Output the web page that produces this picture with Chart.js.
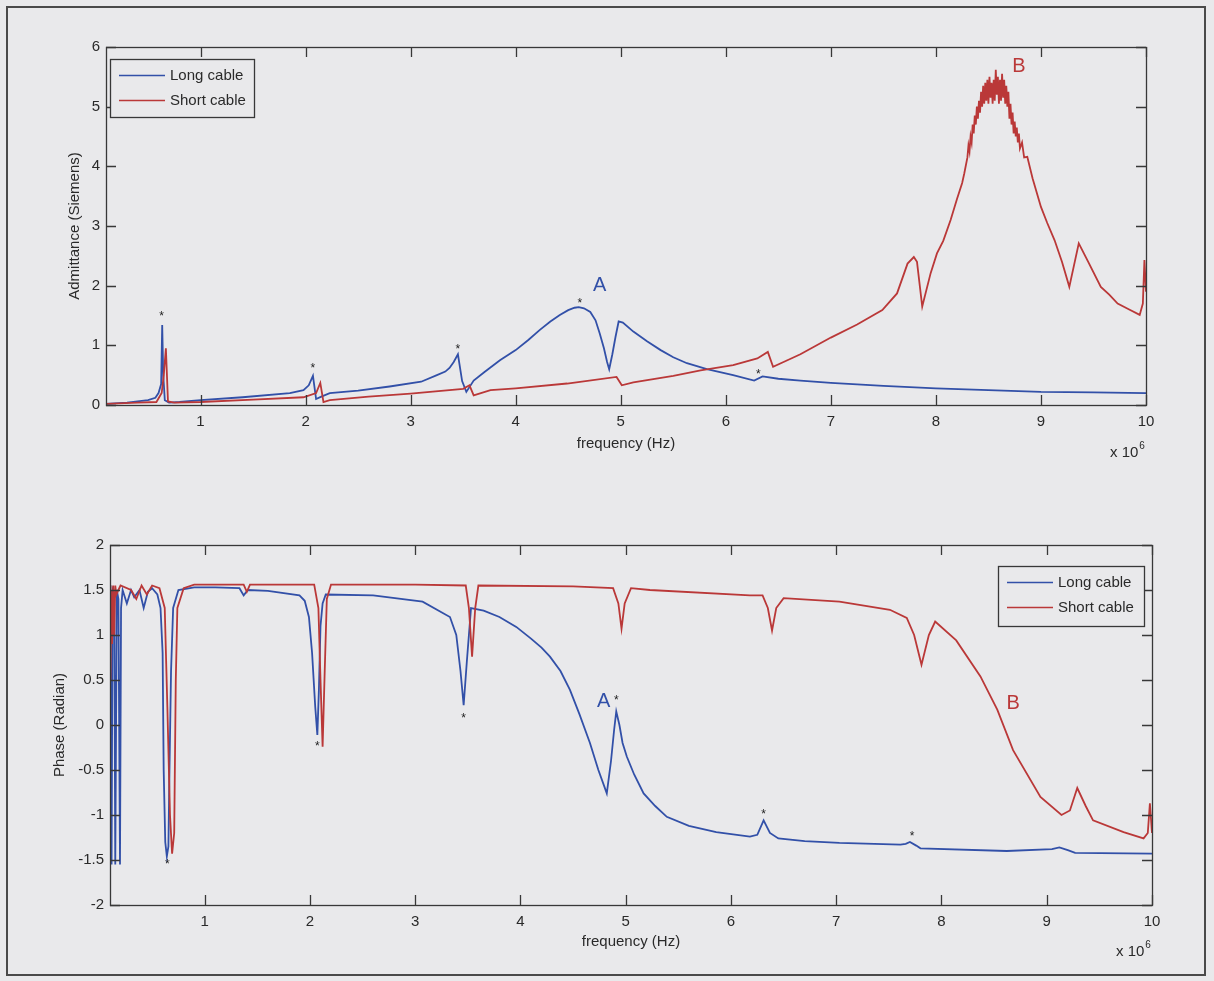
<!DOCTYPE html>
<html><head><meta charset="utf-8">
<script src="https://cdn.jsdelivr.net/npm/chart.js@4/dist/chart.umd.min.js"></script>
<style>
html,body{margin:0;padding:0;background:#e9e9eb;}
#wrap{position:relative;width:1214px;height:981px;overflow:hidden;background:#e9e9eb;}
#frame{position:absolute;left:6px;top:6px;width:1200px;height:970px;border:2px solid #4a4a4a;box-sizing:border-box;}
canvas{position:absolute;left:0;}
</style></head><body>
<div id="wrap"><div id="frame"></div>
<canvas id="c1" width="1214" height="490" style="top:0px"></canvas>
<canvas id="c2" width="1214" height="491" style="top:490px"></canvas>
</div>
<script>
// ---------------- DATA (frequency in units of 10^6 Hz) ----------------
const seriesNames = ['Long cable', 'Short cable'];
const xTickValues = [1,2,3,4,5,6,7,8,9,10];
const admTickValues = [0,1,2,3,4,5,6];
const phaseTickValues = [-2,-1.5,-1,-0.5,0,0.5,1,1.5,2];

// Admittance – long cable
const admLongF = [0.1,0.3,0.5,0.57,0.6,0.625,0.635,0.645,0.66,0.7,0.8,1.0,1.4,1.85,1.98,2.03,2.07,2.1,2.15,2.23,2.5,2.8,3.1,3.25,3.33,3.37,3.41,3.45,3.49,3.53,3.6,3.7,3.85,4.0,4.12,4.23,4.33,4.42,4.5,4.56,4.6,4.65,4.71,4.76,4.8,4.84,4.87,4.89,4.92,4.95,4.98,5.02,5.12,5.25,5.38,5.5,5.63,5.82,6.07,6.27,6.35,6.5,6.71,7.0,7.5,8.0,8.5,9.0,9.5,10.0];
const admLong  = [0.02,0.04,0.08,0.12,0.2,0.35,1.34,0.5,0.08,0.04,0.05,0.08,0.13,0.2,0.25,0.33,0.49,0.1,0.14,0.2,0.24,0.31,0.39,0.5,0.56,0.62,0.72,0.85,0.4,0.22,0.41,0.55,0.75,0.92,1.09,1.26,1.4,1.51,1.59,1.63,1.64,1.62,1.56,1.42,1.2,0.95,0.72,0.6,0.85,1.14,1.4,1.38,1.23,1.07,0.92,0.8,0.7,0.6,0.5,0.41,0.48,0.44,0.41,0.37,0.32,0.28,0.25,0.22,0.21,0.2];

// Admittance – short cable
const admShortF = [0.1,0.4,0.58,0.63,0.65,0.67,0.69,0.75,1.0,1.5,1.98,2.1,2.14,2.17,2.23,2.6,3.0,3.5,3.56,3.6,3.76,4.0,4.49,4.96,5.01,5.12,5.5,5.76,6.07,6.3,6.4,6.45,6.55,6.71,7.0,7.25,7.49,7.63,7.73,7.79,7.82,7.87,7.95,8.01,8.07,8.14,8.2,8.25,8.27,
  8.30,8.31,8.32,8.33,8.34,8.35,8.36,8.37,8.38,8.39,8.40,8.41,8.42,8.43,8.44,8.45,8.46,8.47,8.48,8.49,8.50,8.51,8.52,8.53,8.54,8.55,8.56,8.57,8.58,8.59,8.60,8.61,8.62,8.63,8.64,8.65,8.66,8.67,8.68,8.69,8.70,8.71,8.72,8.73,8.74,8.75,8.76,8.77,8.78,8.79,8.80,8.82,8.84,8.87,
  8.92,9.0,9.06,9.13,9.2,9.27,9.36,9.45,9.57,9.65,9.73,9.84,9.94,9.97,9.985,10.0];
const admShort  = [0.02,0.04,0.05,0.2,0.5,0.95,0.06,0.04,0.05,0.09,0.13,0.2,0.37,0.05,0.08,0.14,0.19,0.27,0.33,0.16,0.25,0.28,0.36,0.47,0.33,0.38,0.49,0.58,0.67,0.78,0.89,0.64,0.72,0.85,1.13,1.35,1.59,1.87,2.37,2.48,2.4,1.65,2.21,2.54,2.75,3.1,3.45,3.72,3.88,
  4.15,4.35,4.25,4.5,4.4,4.7,4.55,4.85,4.7,5.0,4.8,5.1,4.9,5.25,5.0,5.35,5.05,5.4,5.1,5.45,5.05,5.5,5.15,5.4,5.05,5.45,5.1,5.62,5.2,5.5,5.05,5.45,5.1,5.55,5.15,5.45,5.05,5.35,5.0,5.25,4.8,5.05,4.7,4.9,4.55,4.75,4.5,4.65,4.4,4.55,4.3,4.4,4.15,4.16,
  3.8,3.32,3.05,2.76,2.4,1.98,2.71,2.4,1.98,1.85,1.7,1.6,1.51,1.7,2.43,1.9];

// Phase – long cable
const phLongF = [0.1,0.115,0.125,0.14,0.15,0.165,0.18,0.195,0.205,0.22,0.26,0.3,0.33,0.38,0.42,0.46,0.5,0.55,0.58,0.6,0.61,0.625,0.64,0.655,0.665,0.68,0.7,0.75,0.9,1.1,1.33,1.37,1.41,1.6,1.9,1.95,1.99,2.02,2.05,2.07,2.085,2.1,2.12,2.15,2.6,3.07,3.33,3.39,3.43,3.46,3.49,3.53,3.65,3.8,3.96,4.1,4.2,4.28,4.38,4.47,4.56,4.66,4.74,4.82,4.86,4.89,4.91,4.94,4.97,5.01,5.08,5.17,5.28,5.39,5.6,5.86,6.18,6.25,6.31,6.37,6.45,6.7,7.03,7.61,7.66,7.7,7.76,7.8,8.62,9.05,9.12,9.2,9.27,10.0];
const phLong  = [1.55,-1.55,1.5,1.45,-1.55,1.5,1.4,-1.55,1.3,1.5,1.35,1.5,1.42,1.5,1.3,1.48,1.52,1.45,1.3,0.8,-0.5,-1.3,-1.46,-1.35,-0.5,0.6,1.3,1.5,1.53,1.53,1.52,1.44,1.5,1.49,1.44,1.38,1.2,0.8,0.2,-0.11,0.4,1.1,1.35,1.45,1.44,1.37,1.2,1.0,0.6,0.22,0.7,1.3,1.27,1.2,1.09,0.96,0.86,0.76,0.6,0.39,0.12,-0.2,-0.5,-0.76,-0.4,-0.05,0.15,0.0,-0.2,-0.35,-0.55,-0.76,-0.9,-1.02,-1.12,-1.19,-1.24,-1.22,-1.06,-1.2,-1.26,-1.29,-1.31,-1.33,-1.32,-1.3,-1.34,-1.37,-1.4,-1.38,-1.36,-1.39,-1.42,-1.43];

// Phase – short cable
const phShortF = [0.1,0.105,0.11,0.12,0.13,0.14,0.15,0.16,0.2,0.3,0.35,0.4,0.45,0.5,0.57,0.62,0.645,0.67,0.69,0.71,0.725,0.74,0.8,0.9,1.37,1.4,1.43,2.04,2.08,2.1,2.12,2.14,2.16,2.2,3.0,3.48,3.51,3.54,3.57,3.6,4.5,4.88,4.93,4.96,4.99,5.05,5.23,6.18,6.3,6.35,6.39,6.43,6.5,7.03,7.51,7.67,7.74,7.81,7.88,7.94,8.14,8.37,8.53,8.68,8.94,9.14,9.22,9.29,9.37,9.44,9.73,9.92,9.96,9.98,10.0];
const phShort  = [1.55,0.5,1.5,0.9,1.55,1.0,1.55,1.45,1.55,1.5,1.4,1.55,1.45,1.55,1.52,1.3,0.2,-1.0,-1.43,-1.2,0.5,1.3,1.52,1.56,1.56,1.48,1.56,1.56,1.3,0.5,-0.24,0.6,1.4,1.56,1.56,1.55,1.3,0.76,1.3,1.55,1.54,1.52,1.35,1.07,1.35,1.52,1.5,1.44,1.44,1.3,1.05,1.3,1.41,1.37,1.28,1.19,1.0,0.67,1.0,1.15,0.94,0.54,0.17,-0.28,-0.8,-1.0,-0.95,-0.7,-0.9,-1.06,-1.19,-1.26,-1.2,-0.87,-1.2];

// Annotation markers (data coordinates)
const starsTopX = [0.63,2.07,3.45,4.61,6.31];
const starsTopY = [1.55,0.67,0.99,1.76,0.57];
const starsBotX = [0.645,2.07,3.46,4.91,6.31,7.72];
const starsBotY = [-1.51,-0.2,0.11,0.31,-0.96,-1.2];
const lettersTop = [['A',4.8,2.01,'long'],['B',8.79,5.68,'short']];
const lettersBot = [['A',4.79,0.26,'long'],['B',8.68,0.24,'short']];

// ---------------- STYLE ----------------
const BLUE = 'rgb(50,80,168)';
const RED = 'rgb(186,56,56)';
const AXIS = '#383838';
const TEXT = '#2a2a2a';
const FONT = '"Liberation Sans", Arial, Helvetica, sans-serif';

const zip = (xs, ys) => xs.map((x, i) => ({x, y: ys[i]}));

const matlabPlugin = {
  id: 'matlab',
  afterDraw(chart, args, o) {
    const ctx = chart.ctx, a = chart.chartArea, xs = chart.scales.x, ys = chart.scales.y;
    const TL = 10;
    ctx.save();
    ctx.strokeStyle = AXIS; ctx.lineWidth = 1.3;
    ctx.strokeRect(a.left + 0.5, a.top + 0.5, a.right - a.left, a.bottom - a.top);
    ctx.beginPath();
    xs.ticks.forEach(t => {
      const px = Math.round(xs.getPixelForValue(t.value)) + 0.5;
      ctx.moveTo(px, a.bottom); ctx.lineTo(px, a.bottom - TL);
      ctx.moveTo(px, a.top); ctx.lineTo(px, a.top + TL);
    });
    ys.ticks.forEach(t => {
      const py = Math.round(ys.getPixelForValue(t.value)) + 0.5;
      ctx.moveTo(a.left, py); ctx.lineTo(a.left + TL, py);
      ctx.moveTo(a.right, py); ctx.lineTo(a.right - TL, py);
    });
    ctx.stroke();

    // axis titles
    ctx.fillStyle = TEXT;
    ctx.font = '15px ' + FONT;
    ctx.textAlign = 'center'; ctx.textBaseline = 'middle';
    ctx.fillText(o.xTitle, (a.left + a.right) / 2, a.bottom + o.xTitleDy);
    ctx.save();
    ctx.translate(o.yTitleX, (a.top + a.bottom) / 2);
    ctx.rotate(-Math.PI / 2);
    ctx.fillText(o.yTitle, 0, 0);
    ctx.restore();

    // x 10^6 exponent
    ctx.textAlign = 'left';
    ctx.font = '15px ' + FONT;
    const ex = a.right - 36, ey = a.bottom + o.expDy;
    ctx.fillText('x 10', ex, ey);
    const w = ctx.measureText('x 10').width;
    ctx.font = '10px ' + FONT;
    ctx.fillText('6', ex + w + 1, ey - 7);

    // legend
    const L = o.legend;
    const bx = L.anchor === 'left' ? a.left + L.dx : a.right - L.dx - L.w;
    const by = a.top + L.dy;
    ctx.fillStyle = '#e9e9eb';
    ctx.fillRect(bx, by, L.w, L.h);
    ctx.strokeStyle = AXIS; ctx.lineWidth = 1.3;
    ctx.strokeRect(bx + 0.5, by + 0.5, L.w, L.h);
    chart.data.datasets.forEach((ds, i) => {
      const ly = by + 16 + i * 25;
      ctx.strokeStyle = ds.borderColor; ctx.lineWidth = 1.6;
      ctx.beginPath(); ctx.moveTo(bx + 9, ly + 0.5); ctx.lineTo(bx + 55, ly + 0.5); ctx.stroke();
      ctx.fillStyle = TEXT; ctx.font = '15px ' + FONT;
      ctx.textAlign = 'left'; ctx.textBaseline = 'middle';
      ctx.fillText(ds.label, bx + 60, ly + 1);
    });

    // asterisks
    ctx.fillStyle = '#222'; ctx.font = '12px ' + FONT;
    ctx.textAlign = 'center'; ctx.textBaseline = 'alphabetic';
    o.starsX.forEach((x, i) => {
      ctx.fillText('*', xs.getPixelForValue(x), ys.getPixelForValue(o.starsY[i]) + 7);
    });
    // letters
    ctx.font = '20px ' + FONT; ctx.textBaseline = 'middle';
    o.letters.forEach(l => {
      ctx.fillStyle = l[3] === 'long' ? BLUE : RED;
      ctx.fillText(l[0], xs.getPixelForValue(l[1]), ys.getPixelForValue(l[2]));
    });
    ctx.restore();
  }
};

function makeChart(id, c) {
  const tickFont = {family: FONT, size: 15};
  return new Chart(document.getElementById(id), {
    type: 'line',
    data: {
      datasets: [
        {label: seriesNames[0], data: zip(c.fLong, c.yLong), borderColor: BLUE, borderWidth: 1.8, pointRadius: 0, tension: 0, order: 1},
        {label: seriesNames[1], data: zip(c.fShort, c.yShort), borderColor: RED, borderWidth: 1.8, pointRadius: 0, tension: 0, order: 0}
      ]
    },
    options: {
      responsive: false, animation: false, events: [],
      layout: {padding: {top: c.padTop, right: c.padRight, left: 0, bottom: 0}},
      plugins: {legend: {display: false}, tooltip: {enabled: false}, matlab: c.deco},
      scales: {
        x: {
          type: 'linear', min: 0.1, max: 10,
          afterBuildTicks: s => { s.ticks = xTickValues.map(v => ({value: v})); },
          afterFit: s => { s.height = c.xAxisH; },
          grid: {display: false, drawTicks: false}, border: {display: false},
          ticks: {padding: 8, font: tickFont, color: TEXT, maxRotation: 0, autoSkip: false, callback: v => String(v)}
        },
        y: {
          type: 'linear', min: c.yMin, max: c.yMax,
          afterBuildTicks: s => { s.ticks = c.yTicks.map(v => ({value: v})); },
          afterFit: s => { s.width = c.yAxisW; },
          grid: {display: false, drawTicks: false}, border: {display: false},
          ticks: {padding: 6, font: tickFont, color: TEXT, autoSkip: false, callback: v => String(v)}
        }
      }
    },
    plugins: [matlabPlugin]
  });
}

makeChart('c1', {
  fLong: admLongF, yLong: admLong, fShort: admShortF, yShort: admShort,
  yMin: 0, yMax: 6, yTicks: admTickValues,
  padTop: 47, padRight: 68, xAxisH: 85, yAxisW: 106,
  deco: {
    xTitle: 'frequency (Hz)', yTitle: 'Admittance (Siemens)', xTitleDy: 39, yTitleX: 75, expDy: 48,
    legend: {anchor: 'left', dx: 4, dy: 12, w: 144, h: 58},
    starsX: starsTopX, starsY: starsTopY, letters: lettersTop
  }
});

makeChart('c2', {
  fLong: phLongF, yLong: phLong, fShort: phShortF, yShort: phShort,
  yMin: -2, yMax: 2, yTicks: phaseTickValues,
  padTop: 55, padRight: 62, xAxisH: 76, yAxisW: 110,
  deco: {
    xTitle: 'frequency (Hz)', yTitle: 'Phase (Radian)', xTitleDy: 37, yTitleX: 60, expDy: 47,
    legend: {anchor: 'right', dx: 8, dy: 21, w: 146, h: 60},
    starsX: starsBotX, starsY: starsBotY, letters: lettersBot
  }
});
</script>
</body></html>
